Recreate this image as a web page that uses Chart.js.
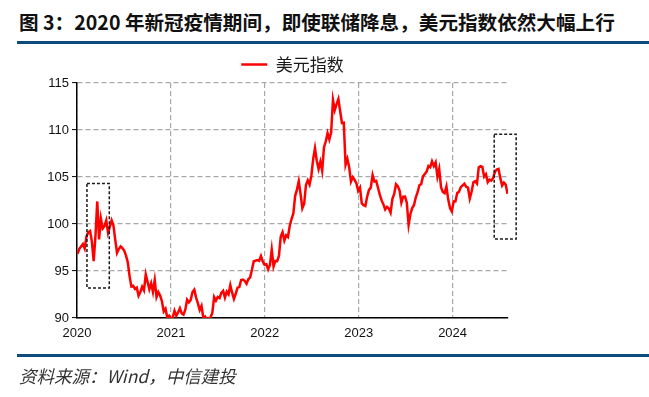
<!DOCTYPE html>
<html>
<head>
<meta charset="utf-8">
<script src="https://cdn.jsdelivr.net/npm/chart.js@4.4.1/dist/chart.umd.min.js"></script>
<style>
  html, body { margin: 0; padding: 0; background: #fff; }
  body { width: 649px; height: 397px; position: relative; overflow: hidden; }
  #title {
    position: absolute; left: 19px; top: 7px;
    font: bold 19.6px "Noto Sans CJK SC", sans-serif; color: #111; white-space: nowrap;
  }
  .bar { position: absolute; left: 17px; width: 632px; height: 3px; background: #0e4c7e; }
  #source {
    position: absolute; left: 19px; top: 363px;
    font: italic 17.5px "Noto Sans CJK SC", sans-serif; color: #333; white-space: nowrap;
  }
  #chartWrap { position: absolute; left: 0; top: 0; width: 649px; height: 397px; }
</style>
</head>
<body>
<div id="title">图 3：2020 年新冠疫情期间，即使联储降息，美元指数依然大幅上行</div>
<div class="bar" style="top:41px"></div>
<div id="chartWrap"><canvas id="dxyChart" width="649" height="397"></canvas></div>
<div class="bar" style="top:354px"></div>
<div id="source">资料来源：Wind，中信建投</div>

<script>
// weekly closes (Fridays), first week 2020-01-03
const firstWeek = '2020-01-03';
const dxy2020 = [96.84, 97.36, 97.61, 97.87, 97.39, 98.68, 99.13, 99.25, 98.13, 96.05,
  98.74, 102.4, 98.35, 100.58, 99.52, 99.77, 100.38, 99.06, 99.73, 100.39,
  99.86, 98.34, 96.93, 97.34, 97.62, 97.43, 97.17, 96.64, 95.92, 94.43,
  93.35, 93.43, 93.09, 93.23, 92.37, 92.77, 93.33, 92.94, 94.64, 93.84,
  93.06, 93.69, 92.78, 94.04, 92.23, 92.76, 92.39, 91.79, 90.70, 90.98,
  90.02, 90.24];
const dxy2021 = [89.94, 90.05, 90.77, 90.24, 90.58, 91.04, 90.48, 90.36, 90.88, 91.94,
  91.67, 91.92, 92.77, 93.02, 92.17, 91.56, 90.85, 91.28, 90.02, 90.15,
  89.85, 89.95, 90.05, 90.55, 92.23, 91.85, 92.23, 92.12, 92.68, 92.90,
  92.17, 92.80, 92.52, 93.49, 92.69, 92.03, 92.58, 93.23, 93.29, 94.04,
  94.08, 93.96, 93.64, 94.12, 94.32, 95.13, 96.03, 96.09, 96.16, 96.08,
  96.60, 96.02, 95.67];
const dxy2022 = [95.72, 95.17, 95.64, 97.26, 95.48, 96.07, 96.04, 96.61, 98.66, 99.13,
  98.23, 98.80, 98.62, 99.81, 100.52, 101.12, 103.0, 103.66, 104.56, 103.20,
  101.67, 102.15, 104.15, 104.64, 104.19, 105.14, 106.90, 108.06, 106.73, 105.85,
  106.62, 105.65, 108.15, 108.80, 109.66, 108.99, 109.76, 113.19, 112.12, 112.76,
  113.31, 111.99, 110.75, 110.78, 106.29, 106.92, 106.04, 104.51, 104.99, 104.70,
  104.33, 103.52];
const dxy2023 = [103.88, 102.20, 102.01, 101.92, 102.92, 103.63, 103.87, 105.21, 104.52, 104.58,
  103.86, 103.12, 102.51, 102.09, 101.55, 101.83, 101.66, 101.21, 102.68, 103.20,
  104.23, 104.03, 103.56, 102.27, 102.91, 102.92, 102.27, 99.91, 101.07, 101.70,
  102.02, 102.84, 103.38, 104.12, 104.24, 105.07, 105.32, 105.58, 106.17, 106.04,
  106.66, 106.16, 106.56, 105.03, 105.86, 103.92, 103.40, 103.27, 104.00, 102.60,
  101.70, 101.33];
const dxy2024 = [102.42, 102.40, 103.29, 103.44, 103.92, 104.11, 104.28, 103.95, 103.86, 102.71,
  103.43, 104.43, 104.55, 104.30, 106.04, 106.15, 106.07, 105.03, 105.30, 104.44,
  104.72, 104.62, 104.89, 105.55, 105.80, 105.87, 104.88, 104.09, 104.40, 104.20,
  103.21];

const yearTicks = [2020, 2021, 2022, 2023, 2024];
const yTicks = [90, 95, 100, 105, 110, 115];
const seriesName = '美元指数';
// dashed highlight boxes, in data units: [xFrom, xTo, yTop, yBottom]
const boxes = [
  [2020.106, 2020.344, 104.3, 93.2],
  [2024.443, 2024.677, 109.55, 98.4]
];

function decimalYear(ms) {
  const d = new Date(ms);
  const y = d.getUTCFullYear();
  const start = Date.UTC(y, 0, 1);
  return y + (ms - start) / (Date.UTC(y + 1, 0, 1) - start);
}

const values = [...dxy2020, ...dxy2021, ...dxy2022, ...dxy2023, ...dxy2024];
const t0 = Date.parse(firstWeek + 'T00:00:00Z');
const points = values.map((v, i) => ({ x: decimalYear(t0 + i * 7 * 86400000), y: v }));

const boxPlugin = {
  id: 'boxes',
  afterDatasetsDraw(chart) {
    const { ctx, scales: { x, y } } = chart;
    ctx.save();
    ctx.strokeStyle = '#1a1a1a';
    ctx.lineWidth = 1.5;
    ctx.setLineDash([3, 2]);
    boxes.forEach(b => {
      const x1 = x.getPixelForValue(b[0]), x2 = x.getPixelForValue(b[1]);
      const y1 = y.getPixelForValue(b[2]), y2 = y.getPixelForValue(b[3]);
      ctx.strokeRect(x1, y1, x2 - x1, y2 - y1);
    });
    ctx.restore();
  }
};

const gridColor = '#a8a8a8';

new Chart(document.getElementById('dxyChart'), {
  type: 'line',
  data: {
    datasets: [{
      label: seriesName,
      data: points,
      borderColor: '#ff0000',
      backgroundColor: '#ff0000',
      borderWidth: 2.5,
      pointRadius: 0,
      tension: 0
    }]
  },
  options: {
    responsive: false,
    animation: false,
    events: [],
    layout: { padding: { left: 47, right: 141, top: 49, bottom: 49 } },
    scales: {
      x: {
        type: 'linear',
        min: 2020,
        max: 2024.59,
        afterBuildTicks: scale => { scale.ticks = yearTicks.map(v => ({ value: v })); },
        afterFit: scale => { scale.height = 30; },
        grid: { color: gridColor, lineWidth: 1.2, drawTicks: false },
        border: { color: '#000', width: 1.5, dash: [5, 3] },
        ticks: {
          padding: 8,
          color: '#111',
          font: { family: 'Liberation Sans, Arial', size: 13 },
          maxRotation: 0,
          callback: v => String(v)
        }
      },
      y: {
        min: 90,
        max: 115,
        afterBuildTicks: scale => { scale.ticks = yTicks.map(v => ({ value: v })); },
        afterFit: scale => { scale.width = 30; },
        grid: { color: gridColor, lineWidth: 1.2, tickColor: '#000', tickLength: 5, tickWidth: 1 },
        border: { color: '#000', width: 1.5, dash: [5, 3] },
        ticks: {
          padding: 3,
          color: '#111',
          font: { family: 'Liberation Sans, Arial', size: 13 }
        }
      }
    },
    plugins: {
      legend: {
        position: 'top',
        fullSize: false,
        labels: {
          usePointStyle: true,
          pointStyle: 'line',
          pointStyleWidth: 26,
          padding: 7,
          color: '#1a1a1a',
          font: { family: 'Noto Sans CJK SC', size: 17 }
        }
      },
      tooltip: { enabled: false }
    }
  },
  plugins: [boxPlugin]
});
</script>
</body>
</html>
